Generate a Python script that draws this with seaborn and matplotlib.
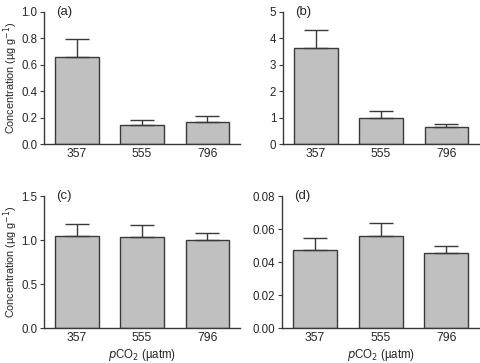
import numpy as np
import pandas as pd
import matplotlib
matplotlib.use("Agg")
import matplotlib.pyplot as plt
import seaborn as sns

# -------------------------------
# Data
# -------------------------------
pco2 = ["357", "555", "796"]

conc_a = [0.66, 0.145, 0.17]
err_a = [0.135, 0.04, 0.04]

conc_b = [3.65, 1.0, 0.63]
err_b = [0.65, 0.25, 0.13]

conc_c = [1.05, 1.04, 1.00]
err_c = [0.13, 0.13, 0.08]

conc_d = [0.0475, 0.056, 0.0455]
err_d = [0.0072, 0.0075, 0.0042]

panel_labels = ["(a)", "(b)", "(c)", "(d)"]
ylims = [(0, 1.0), (0, 5), (0, 1.5), (0, 0.08)]
yticks = [[0.0, 0.2, 0.4, 0.6, 0.8, 1.0],
          [0, 1, 2, 3, 4, 5],
          [0.0, 0.5, 1.0, 1.5],
          [0.00, 0.02, 0.04, 0.06, 0.08]]
yfmt = ["{:.1f}", "{:.0f}", "{:.1f}", "{:.2f}"]

sns.set_style("ticks")
plt.rcParams["font.family"] = ["Liberation Sans", "DejaVu Sans"]
plt.rcParams["font.size"] = 8

fig = plt.figure(figsize=(4.8, 3.63), dpi=100)
# axes boxes in figure fractions: left, bottom, width, height
boxes = [[0.092, 0.603, 0.408, 0.364],
         [0.590, 0.603, 0.408, 0.364],
         [0.092, 0.096, 0.408, 0.364],
         [0.588, 0.096, 0.410, 0.364]]

series = [(conc_a, err_a), (conc_b, err_b), (conc_c, err_c), (conc_d, err_d)]

edge = "#3a3a3a"
for i, (vals, errs) in enumerate(series):
    ax = fig.add_axes(boxes[i])
    df = pd.DataFrame({"pCO2": pco2, "conc": vals, "err": errs})
    sns.barplot(data=df, x="pCO2", y="conc", ax=ax, color="#c0c0c0",
                edgecolor=edge, linewidth=1.0, width=0.667,
                saturation=1, errorbar=None)
    xs = np.arange(len(df))
    ax.errorbar(xs, df["conc"], yerr=[np.zeros(len(df)), df["err"]],
                fmt="none", ecolor=edge, elinewidth=1.0, capsize=8.3,
                capthick=1.0, zorder=1)
    ax.set_xlim(-0.5, 2.5)
    ax.set_ylim(*ylims[i])
    ax.set_yticks(yticks[i])
    ax.set_yticklabels([yfmt[i].format(t) for t in yticks[i]])
    sns.despine(ax=ax)
    for s in ["left", "bottom"]:
        ax.spines[s].set_color(edge)
        ax.spines[s].set_linewidth(1.0)
    ax.tick_params(axis="y", direction="out", length=3, width=0.8,
                   color=edge, labelsize=8.3, pad=2)
    ax.tick_params(axis="x", length=0, labelsize=8.7, pad=3)
    ax.text(0.06, 1.0, panel_labels[i], transform=ax.transAxes,
            fontsize=9.5, va="center", ha="left")
    if i in (0, 2):
        ax.set_ylabel("Concentration (\u00b5g g$^{-1}$)", fontsize=7.8, labelpad=0.5)
    else:
        ax.set_ylabel("")
    if i in (2, 3):
        ax.set_xlabel("$p$CO$_2$ (\u00b5atm)", fontsize=8.3, labelpad=2)
    else:
        ax.set_xlabel("")

fig.savefig("out.png", dpi=100)
